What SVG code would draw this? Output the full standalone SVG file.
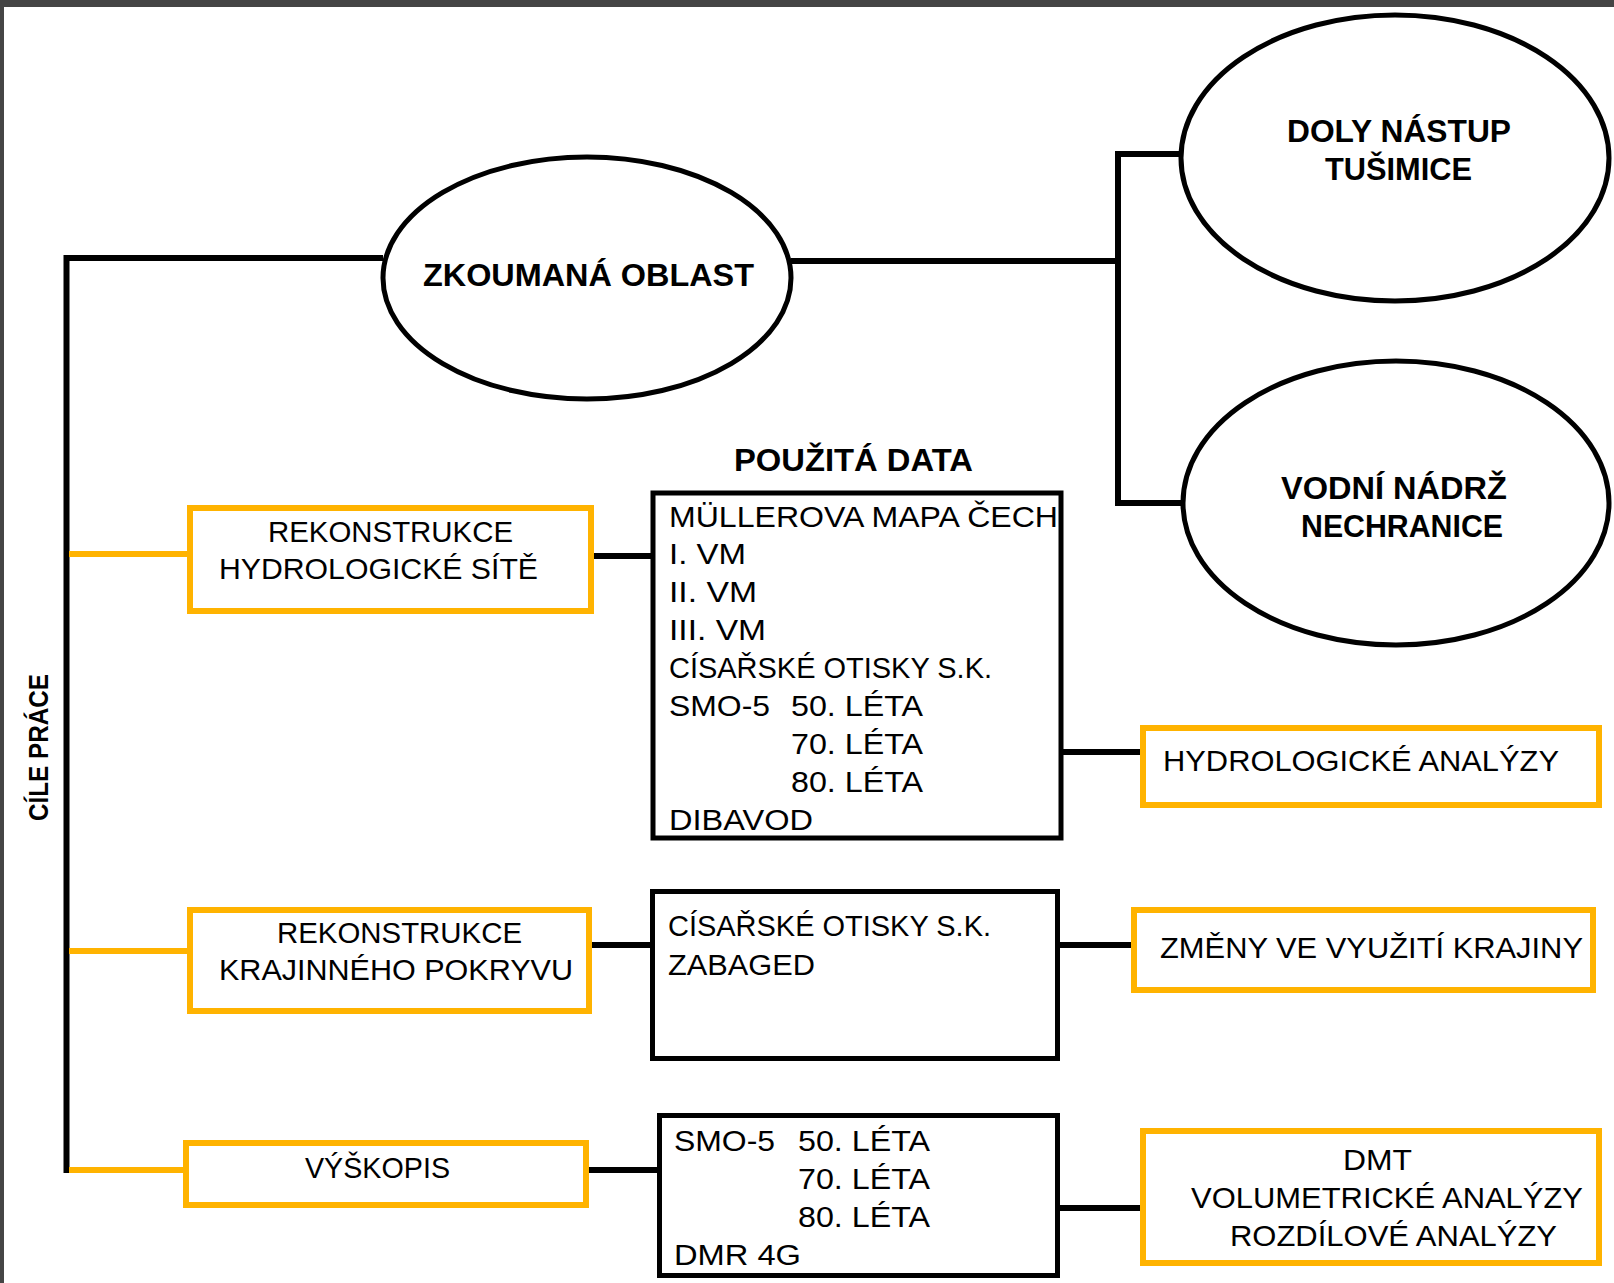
<svg xmlns="http://www.w3.org/2000/svg" width="1614" height="1283" viewBox="0 0 1614 1283">
<style>
.bl{stroke:#000;stroke-width:6;fill:none}
.or{stroke:#FFB300;stroke-width:6;fill:none}
.dbox{stroke:#000;stroke-width:5;fill:#fff}
.obox{stroke:#FFB300;stroke-width:6;fill:#fff}
.ell{stroke:#000;stroke-width:5;fill:#fff}
text{font-family:"Liberation Sans",Arial,sans-serif;fill:#000}
.r{font-size:29px}
.b{font-size:31px;font-weight:bold}
</style>
<rect x="0" y="0" width="1614" height="1283" fill="#fff"/>
<rect x="0" y="0" width="1614" height="7" fill="#454545"/>
<rect x="0" y="0" width="4" height="1283" fill="#454545"/>

<g id="connectors">
<polyline class="bl" points="66.5,1173 66.5,258 383,258"/>
<line class="or" x1="69" y1="554" x2="190" y2="554"/>
<line class="or" x1="69" y1="951" x2="190" y2="951"/>
<line class="or" x1="69" y1="1170" x2="186" y2="1170"/>
<line class="bl" x1="791" y1="261" x2="1118" y2="261"/>
<polyline class="bl" points="1182,154 1118,154 1118,503 1183,503"/>
<line class="bl" x1="594" y1="556" x2="654" y2="556"/>
<line class="bl" x1="1063" y1="752" x2="1143" y2="752"/>
<line class="bl" x1="592" y1="945" x2="651" y2="945"/>
<line class="bl" x1="1060" y1="945" x2="1134" y2="945"/>
<line class="bl" x1="589" y1="1170" x2="658" y2="1170"/>
<line class="bl" x1="1060" y1="1208" x2="1143" y2="1208"/>
</g>

<g id="cile-prace">
<text class="b" transform="translate(48,821) rotate(-90)" textLength="147" lengthAdjust="spacingAndGlyphs" style="font-size:28px">CÍLE PRÁCE</text>
</g>

<g id="zkoumana-oblast">
<ellipse class="ell" cx="587" cy="278" rx="204" ry="121"/>
<text class="b" x="423" y="286" textLength="331" lengthAdjust="spacingAndGlyphs">ZKOUMANÁ OBLAST</text>
</g>

<g id="doly-nastup">
<ellipse class="ell" cx="1395" cy="158" rx="214" ry="143"/>
<text class="b" x="1287" y="142" textLength="224" lengthAdjust="spacingAndGlyphs">DOLY NÁSTUP</text>
<text class="b" x="1325" y="180" textLength="147" lengthAdjust="spacingAndGlyphs">TUŠIMICE</text>
</g>

<g id="vodni-nadrz">
<ellipse class="ell" cx="1396" cy="503" rx="213" ry="142"/>
<text class="b" x="1281" y="499" textLength="226" lengthAdjust="spacingAndGlyphs">VODNÍ NÁDRŽ</text>
<text class="b" x="1301" y="537" textLength="202" lengthAdjust="spacingAndGlyphs">NECHRANICE</text>
</g>

<g id="pouzita-data-title">
<text class="b" x="734" y="471" textLength="239" lengthAdjust="spacingAndGlyphs">POUŽITÁ DATA</text>
</g>

<g id="rekonstrukce-hydro">
<rect class="obox" x="190" y="508" width="401" height="103"/>
<text class="r" x="268" y="542" textLength="245" lengthAdjust="spacingAndGlyphs">REKONSTRUKCE</text>
<text class="r" x="219" y="579" textLength="319" lengthAdjust="spacingAndGlyphs">HYDROLOGICKÉ SÍTĚ</text>
</g>

<g id="data-1">
<rect class="dbox" x="653" y="493" width="408" height="345"/>
<text class="r" x="669" y="527" textLength="389" lengthAdjust="spacingAndGlyphs">MÜLLEROVA MAPA ČECH</text>
<text class="r" x="669" y="564" textLength="77" lengthAdjust="spacingAndGlyphs">I. VM</text>
<text class="r" x="669" y="602" textLength="88" lengthAdjust="spacingAndGlyphs">II. VM</text>
<text class="r" x="669" y="640" textLength="97" lengthAdjust="spacingAndGlyphs">III. VM</text>
<text class="r" x="669" y="678" textLength="323" lengthAdjust="spacingAndGlyphs">CÍSAŘSKÉ OTISKY S.K.</text>
<text class="r" x="669" y="716" textLength="101" lengthAdjust="spacingAndGlyphs">SMO-5</text>
<text class="r" x="791" y="716" textLength="132" lengthAdjust="spacingAndGlyphs">50. LÉTA</text>
<text class="r" x="791" y="754" textLength="132" lengthAdjust="spacingAndGlyphs">70. LÉTA</text>
<text class="r" x="791" y="792" textLength="132" lengthAdjust="spacingAndGlyphs">80. LÉTA</text>
<text class="r" x="669" y="830" textLength="144" lengthAdjust="spacingAndGlyphs">DIBAVOD</text>
</g>

<g id="hydro-analyzy">
<rect class="obox" x="1143" y="728" width="456" height="77"/>
<text class="r" x="1163" y="771" textLength="396" lengthAdjust="spacingAndGlyphs">HYDROLOGICKÉ ANALÝZY</text>
</g>

<g id="rekonstrukce-krajiny">
<rect class="obox" x="190" y="910" width="399" height="101"/>
<text class="r" x="277" y="943" textLength="245" lengthAdjust="spacingAndGlyphs">REKONSTRUKCE</text>
<text class="r" x="219" y="980" textLength="354" lengthAdjust="spacingAndGlyphs">KRAJINNÉHO POKRYVU</text>
</g>

<g id="data-2">
<rect class="dbox" x="652.5" y="891.5" width="405" height="167"/>
<text class="r" x="668" y="936" textLength="323" lengthAdjust="spacingAndGlyphs">CÍSAŘSKÉ OTISKY S.K.</text>
<text class="r" x="668" y="975" textLength="147" lengthAdjust="spacingAndGlyphs">ZABAGED</text>
</g>

<g id="zmeny">
<rect class="obox" x="1134" y="910" width="459" height="80"/>
<text class="r" x="1160" y="958" textLength="423" lengthAdjust="spacingAndGlyphs">ZMĚNY VE VYUŽITÍ KRAJINY</text>
</g>

<g id="vyskopis">
<rect class="obox" x="186" y="1143" width="400" height="62"/>
<text class="r" x="305" y="1178" textLength="145" lengthAdjust="spacingAndGlyphs">VÝŠKOPIS</text>
</g>

<g id="data-3">
<rect class="dbox" x="659.5" y="1115.5" width="398" height="160"/>
<text class="r" x="674" y="1151" textLength="101" lengthAdjust="spacingAndGlyphs">SMO-5</text>
<text class="r" x="798" y="1151" textLength="132" lengthAdjust="spacingAndGlyphs">50. LÉTA</text>
<text class="r" x="798" y="1189" textLength="132" lengthAdjust="spacingAndGlyphs">70. LÉTA</text>
<text class="r" x="798" y="1227" textLength="132" lengthAdjust="spacingAndGlyphs">80. LÉTA</text>
<text class="r" x="674" y="1265" textLength="127" lengthAdjust="spacingAndGlyphs">DMR 4G</text>
</g>

<g id="dmt">
<rect class="obox" x="1143" y="1131" width="456" height="132"/>
<text class="r" x="1343" y="1170" textLength="69" lengthAdjust="spacingAndGlyphs">DMT</text>
<text class="r" x="1191" y="1208" textLength="392" lengthAdjust="spacingAndGlyphs">VOLUMETRICKÉ ANALÝZY</text>
<text class="r" x="1230" y="1246" textLength="327" lengthAdjust="spacingAndGlyphs">ROZDÍLOVÉ ANALÝZY</text>
</g>
</svg>
